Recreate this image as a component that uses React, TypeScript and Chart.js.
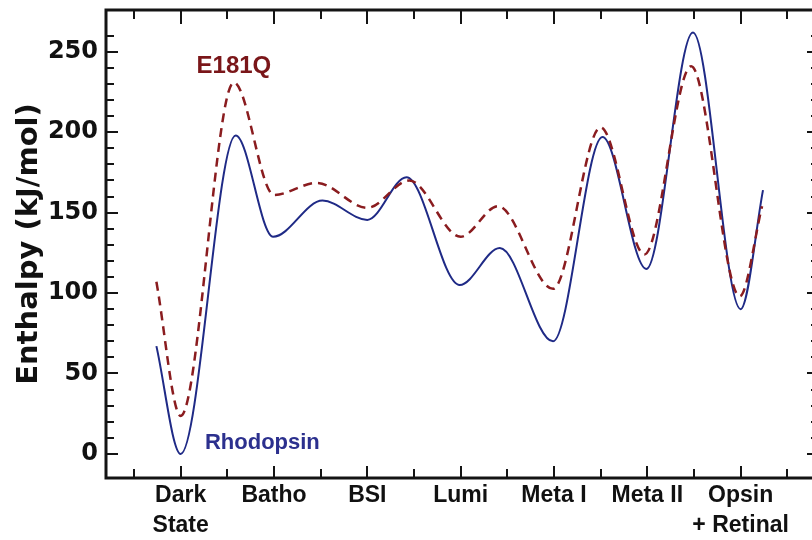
import React, { useEffect, useRef } from 'react';
import { Chart, registerables } from 'chart.js';

Chart.register(...registerables);

// Category labels (x positions 0..6)
const categories: string[][] = [
  ['Dark', 'State'],
  ['Batho'],
  ['BSI'],
  ['Lumi'],
  ['Meta I'],
  ['Meta II'],
  ['Opsin', '+ Retinal'],
];

// Y tick labels shown
const yTickLabels = [0, 50, 100, 150, 200, 250];

// Rhodopsin (solid)
const rhodopsinX = [-0.26, 0, 0.59, 0.99, 1.52, 2.0, 2.42, 2.99, 3.42, 3.99, 4.52, 4.99, 5.49, 6.0, 6.24];
const rhodopsinY = [67, 0, 198, 135, 157.5, 145.5, 172, 105, 128, 70, 197, 115, 262, 90, 164];

// E181Q (dashed)
const e181qX = [-0.26, 0, 0.57, 1.0, 1.46, 2.0, 2.45, 3.0, 3.4, 3.99, 4.5, 4.97, 5.47, 5.99, 6.23];
const e181qY = [107, 23.6, 231, 161, 168.5, 153, 170, 135, 154, 102.6, 203, 124, 241, 98, 154];

const seriesNames = ['Rhodopsin', 'E181Q'];

const FRAME = '#141414';

const framePlugin = {
  id: 'frameTicks',
  afterDraw(chart: any) {
    const { ctx, chartArea: a, scales } = chart;
    const x = scales.x;
    const y = scales.y;
    ctx.save();
    ctx.strokeStyle = FRAME;
    ctx.lineWidth = 2;
    ctx.beginPath();
    for (const t of x.ticks) {
      const px = Math.round(x.getPixelForValue(t.value));
      const major = Number.isInteger(t.value);
      ctx.moveTo(px, a.bottom);
      ctx.lineTo(px, a.bottom - (major ? 12 : 9));
      ctx.moveTo(px, a.top);
      ctx.lineTo(px, a.top + (major ? 14 : 9));
    }
    for (const t of y.ticks) {
      const py = Math.round(y.getPixelForValue(t.value));
      const major = t.value % 50 === 0;
      const len = major ? 12 : 8;
      ctx.moveTo(a.left, py);
      ctx.lineTo(a.left + len, py);
      ctx.moveTo(a.right, py);
      ctx.lineTo(a.right - len, py);
    }
    ctx.stroke();
    ctx.lineWidth = 3;
    ctx.strokeRect(a.left, a.top, a.right - a.left, a.bottom - a.top);

    // series annotations, anchored in data coordinates
    ctx.textAlign = 'left';
    ctx.textBaseline = 'alphabetic';
    ctx.font = 'bold 24px "Liberation Sans", Arial, sans-serif';
    ctx.fillStyle = '#7a1619';
    ctx.fillText(seriesNames[1], x.getPixelForValue(0.17), y.getPixelForValue(237));
    ctx.font = 'bold 22px "Liberation Sans", Arial, sans-serif';
    ctx.fillStyle = '#2c308e';
    ctx.fillText(seriesNames[0], x.getPixelForValue(0.26), y.getPixelForValue(3));
    ctx.restore();
  },
};

export default function App() {
  const ref = useRef<HTMLCanvasElement>(null);

  useEffect(() => {
    const xTicks: number[] = [];
    for (let v = -0.5; v <= 6.5; v += 0.5) xTicks.push(v);
    const yTicks: number[] = [];
    for (let v = 0; v <= 260; v += 10) yTicks.push(v);

    const chart = new Chart(ref.current as HTMLCanvasElement, {
      type: 'line',
      data: {
        datasets: [
          {
            label: seriesNames[1],
            data: e181qX.map((xv, i) => ({ x: xv, y: e181qY[i] })),
            borderColor: '#8a1c1f',
            borderWidth: 2.5,
            borderDash: [9, 6],
            pointRadius: 0,
            cubicInterpolationMode: 'monotone',
            fill: false,
          },
          {
            label: seriesNames[0],
            data: rhodopsinX.map((xv, i) => ({ x: xv, y: rhodopsinY[i] })),
            borderColor: '#1f2a86',
            borderWidth: 2,
            pointRadius: 0,
            cubicInterpolationMode: 'monotone',
            fill: false,
          },
        ],
      },
      options: {
        responsive: false,
        animation: false,
        layout: { padding: { top: 10, right: 11, left: 0, bottom: 0 } },
        plugins: { legend: { display: false }, tooltip: { enabled: false } },
        scales: {
          x: {
            type: 'linear',
            min: -0.8,
            max: 6.84,
            grid: { display: false, drawTicks: false },
            border: { display: false },
            afterBuildTicks: (s: any) => {
              s.ticks = xTicks.map((v) => ({ value: v }));
            },
            afterFit: (s: any) => {
              s.height = 62;
              s.paddingLeft = 0;
              s.paddingRight = 0;
              s.paddingTop = 0;
              s.paddingBottom = 0;
            },
            ticks: {
              autoSkip: false,
              maxRotation: 0,
              minRotation: 0,
              padding: 3,
              color: '#111',
              font: { family: '"Liberation Sans", Arial, sans-serif', size: 23, weight: 'bold', lineHeight: 30 / 23 },
              callback: (v: any) => (Number.isInteger(v) ? categories[v] : ''),
            },
          },
          y: {
            type: 'linear',
            min: -15,
            max: 276,
            grid: { display: false, drawTicks: false },
            border: { display: false },
            afterBuildTicks: (s: any) => {
              s.ticks = yTicks.map((v) => ({ value: v }));
            },
            afterFit: (s: any) => {
              s.width = 106;
              s.paddingLeft = 0;
              s.paddingRight = 0;
              s.paddingTop = 0;
              s.paddingBottom = 0;
            },
            ticks: {
              autoSkip: false,
              padding: 8,
              color: '#111',
              font: { family: '"DejaVu Sans", sans-serif', size: 24, weight: 'bold' },
              callback: (v: any) => (yTickLabels.includes(v) ? String(v) : ''),
            },
            title: {
              display: true,
              text: 'Enthalpy (kJ/mol)',
              color: '#111',
              padding: { top: 12, bottom: 0 },
              font: { family: '"DejaVu Sans", sans-serif', size: 29, weight: 'bold', lineHeight: 1.2 },
            },
          },
        },
      } as any,
      plugins: [framePlugin],
    });
    return () => chart.destroy();
  }, []);

  return (
    <div style={{ position: 'fixed', left: 0, top: 0, width: 812, height: 540, overflow: 'hidden', background: '#fff' }}>
      <canvas ref={ref} width={830} height={540} style={{ display: 'block' }} />
    </div>
  );
}
